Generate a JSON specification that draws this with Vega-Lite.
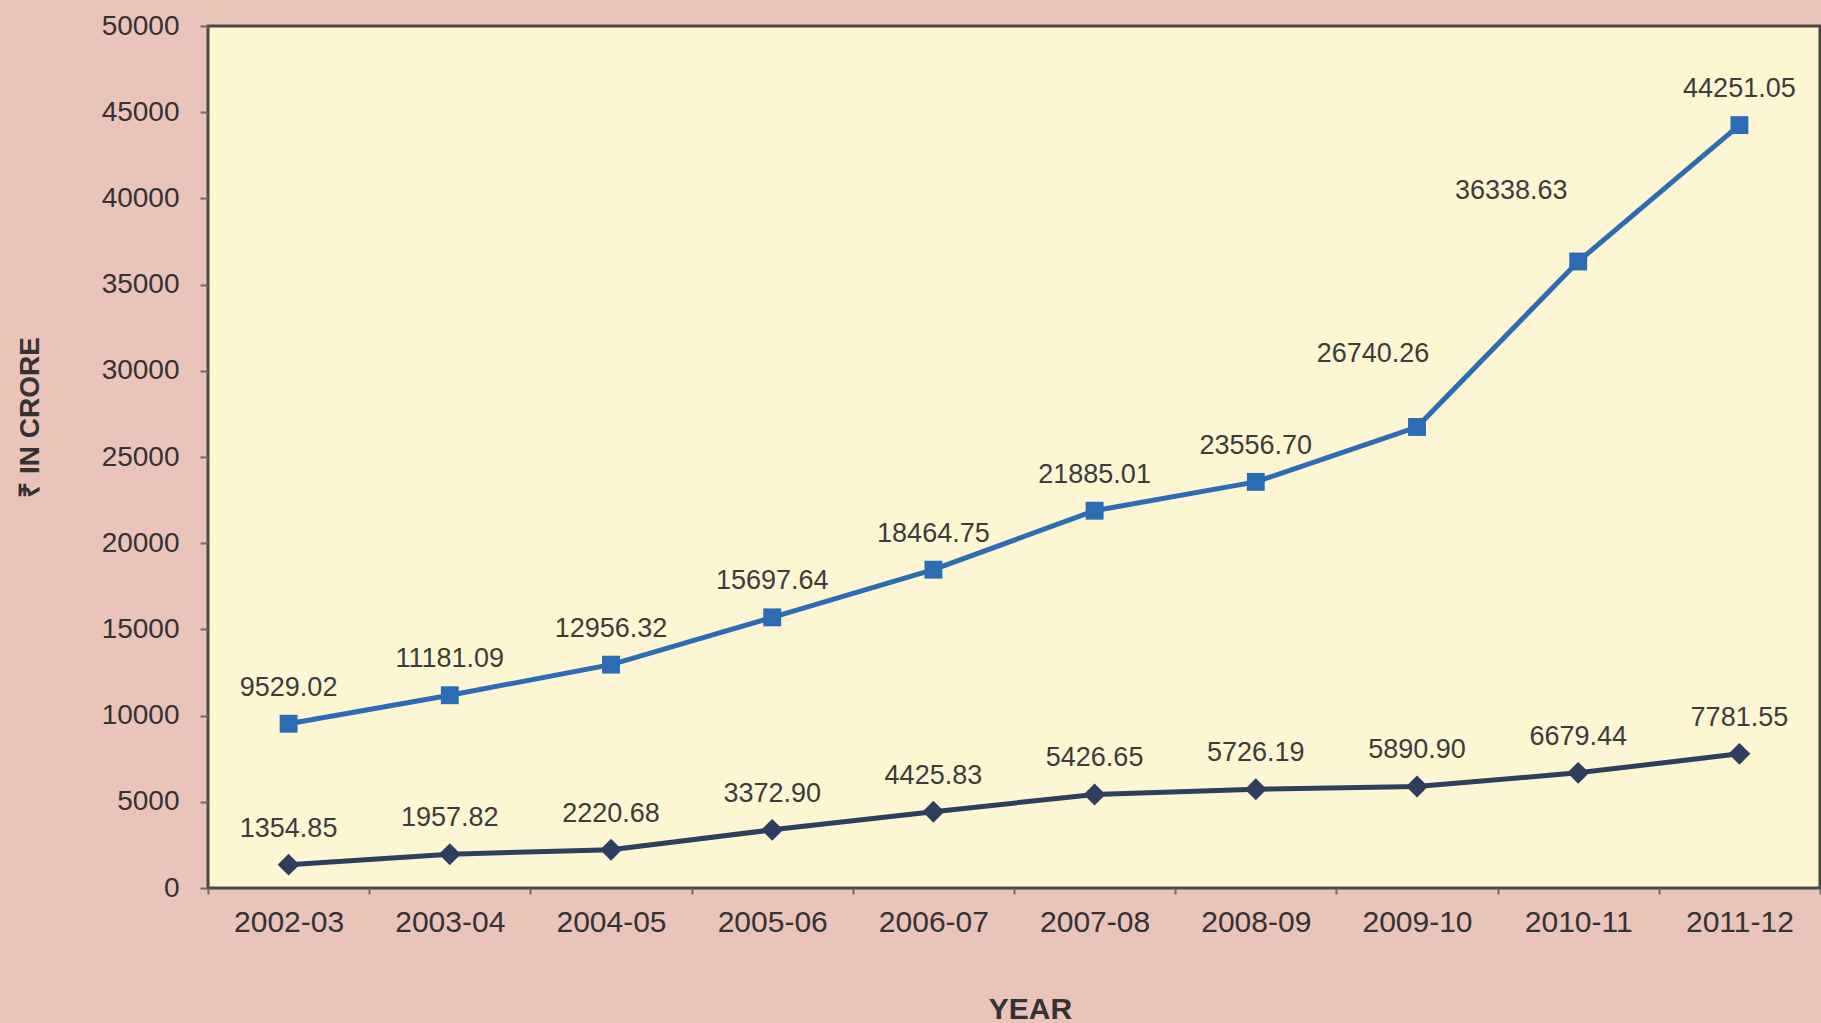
{
  "$schema": "https://vega.github.io/schema/vega-lite/v6.json",
  "width": 1612,
  "height": 862,
  "autosize": {"type": "none"},
  "padding": {"left": 208, "top": 26, "right": 1, "bottom": 135},
  "background": "#e9c4b8",
  "config": {
    "view": {"fill": "#fcf6d3", "stroke": "#4a4a45", "strokeWidth": 3},
    "font": "Liberation Sans"
  },
  "data": {
    "values": [
      {"year": "2002-03", "series": "Series A", "value": 9529.02},
      {"year": "2003-04", "series": "Series A", "value": 11181.09},
      {"year": "2004-05", "series": "Series A", "value": 12956.32},
      {"year": "2005-06", "series": "Series A", "value": 15697.64},
      {"year": "2006-07", "series": "Series A", "value": 18464.75},
      {"year": "2007-08", "series": "Series A", "value": 21885.01},
      {"year": "2008-09", "series": "Series A", "value": 23556.70},
      {"year": "2009-10", "series": "Series A", "value": 26740.26},
      {"year": "2010-11", "series": "Series A", "value": 36338.63},
      {"year": "2011-12", "series": "Series A", "value": 44251.05},
      {"year": "2002-03", "series": "Series B", "value": 1354.85},
      {"year": "2003-04", "series": "Series B", "value": 1957.82},
      {"year": "2004-05", "series": "Series B", "value": 2220.68},
      {"year": "2005-06", "series": "Series B", "value": 3372.90},
      {"year": "2006-07", "series": "Series B", "value": 4425.83},
      {"year": "2007-08", "series": "Series B", "value": 5426.65},
      {"year": "2008-09", "series": "Series B", "value": 5726.19},
      {"year": "2009-10", "series": "Series B", "value": 5890.90},
      {"year": "2010-11", "series": "Series B", "value": 6679.44},
      {"year": "2011-12", "series": "Series B", "value": 7781.55}
    ]
  },
  "encoding": {
    "x": {
      "field": "year",
      "type": "ordinal",
      "bandPosition": 0.5,
      "scale": {"type": "band", "paddingInner": 0, "paddingOuter": 0},
      "axis": {
        "title": "YEAR",
        "titleFontSize": 30,
        "titleFontWeight": "bold",
        "titleColor": "#333333",
        "titleBaseline": "alphabetic",
        "titleY": 130,
        "titleX": 822,
        "labelFontSize": 30,
        "labelColor": "#333333",
        "labelAngle": 0,
        "labelPadding": 13,
        "tickBand": "extent",
        "ticks": true,
        "tickSize": 6,
        "tickColor": "#6a6a66",
        "tickWidth": 2,
        "domain": false,
        "grid": false
      }
    },
    "y": {
      "field": "value",
      "type": "quantitative",
      "scale": {"domain": [0, 50000], "nice": false},
      "axis": {
        "title": "₹ IN CRORE",
        "titleFontSize": 28,
        "titleFontWeight": "bold",
        "titleColor": "#333333",
        "titleAngle": 270,
        "titleAlign": "center",
        "titleBaseline": "middle",
        "titleX": -178,
        "titleY": 391,
        "values": [0, 5000, 10000, 15000, 20000, 25000, 30000, 35000, 40000, 45000, 50000],
        "format": "d",
        "labelFontSize": 28,
        "labelColor": "#333333",
        "labelPadding": 21,
        "tickSize": 8,
        "tickColor": "#6a6a66",
        "tickWidth": 2,
        "domain": false,
        "grid": false
      }
    },
    "color": {
      "field": "series",
      "type": "nominal",
      "scale": {"domain": ["Series A", "Series B"], "range": ["#2b6cb4", "#2f3e5e"]},
      "legend": null
    }
  },
  "layer": [
    {
      "mark": {"type": "line", "strokeWidth": 5}
    },
    {
      "mark": {"type": "point", "filled": true, "opacity": 1},
      "encoding": {
        "shape": {
          "field": "series",
          "type": "nominal",
          "scale": {"domain": ["Series A", "Series B"], "range": ["square", "diamond"]},
          "legend": null
        },
        "size": {
          "field": "series",
          "type": "nominal",
          "scale": {"domain": ["Series A", "Series B"], "range": [320, 480]},
          "legend": null
        }
      }
    },
    {
      "transform": [
        {"filter": "!(datum.series === 'Series A' && (datum.year === '2009-10' || datum.year === '2010-11'))"}
      ],
      "mark": {"type": "text", "dy": -28, "fontSize": 27, "align": "center", "baseline": "alphabetic"},
      "encoding": {
        "text": {"field": "value", "type": "quantitative", "format": ".2f"},
        "color": {"value": "#3c3c3c"}
      }
    },
    {
      "transform": [
        {"filter": "datum.series === 'Series A' && datum.year === '2009-10'"}
      ],
      "mark": {"type": "text", "dx": -44, "dy": -65, "fontSize": 27, "align": "center", "baseline": "alphabetic"},
      "encoding": {
        "text": {"field": "value", "type": "quantitative", "format": ".2f"},
        "color": {"value": "#3c3c3c"}
      }
    },
    {
      "transform": [
        {"filter": "datum.series === 'Series A' && datum.year === '2010-11'"}
      ],
      "mark": {"type": "text", "dx": -67, "dy": -63, "fontSize": 27, "align": "center", "baseline": "alphabetic"},
      "encoding": {
        "text": {"field": "value", "type": "quantitative", "format": ".2f"},
        "color": {"value": "#3c3c3c"}
      }
    }
  ]
}
